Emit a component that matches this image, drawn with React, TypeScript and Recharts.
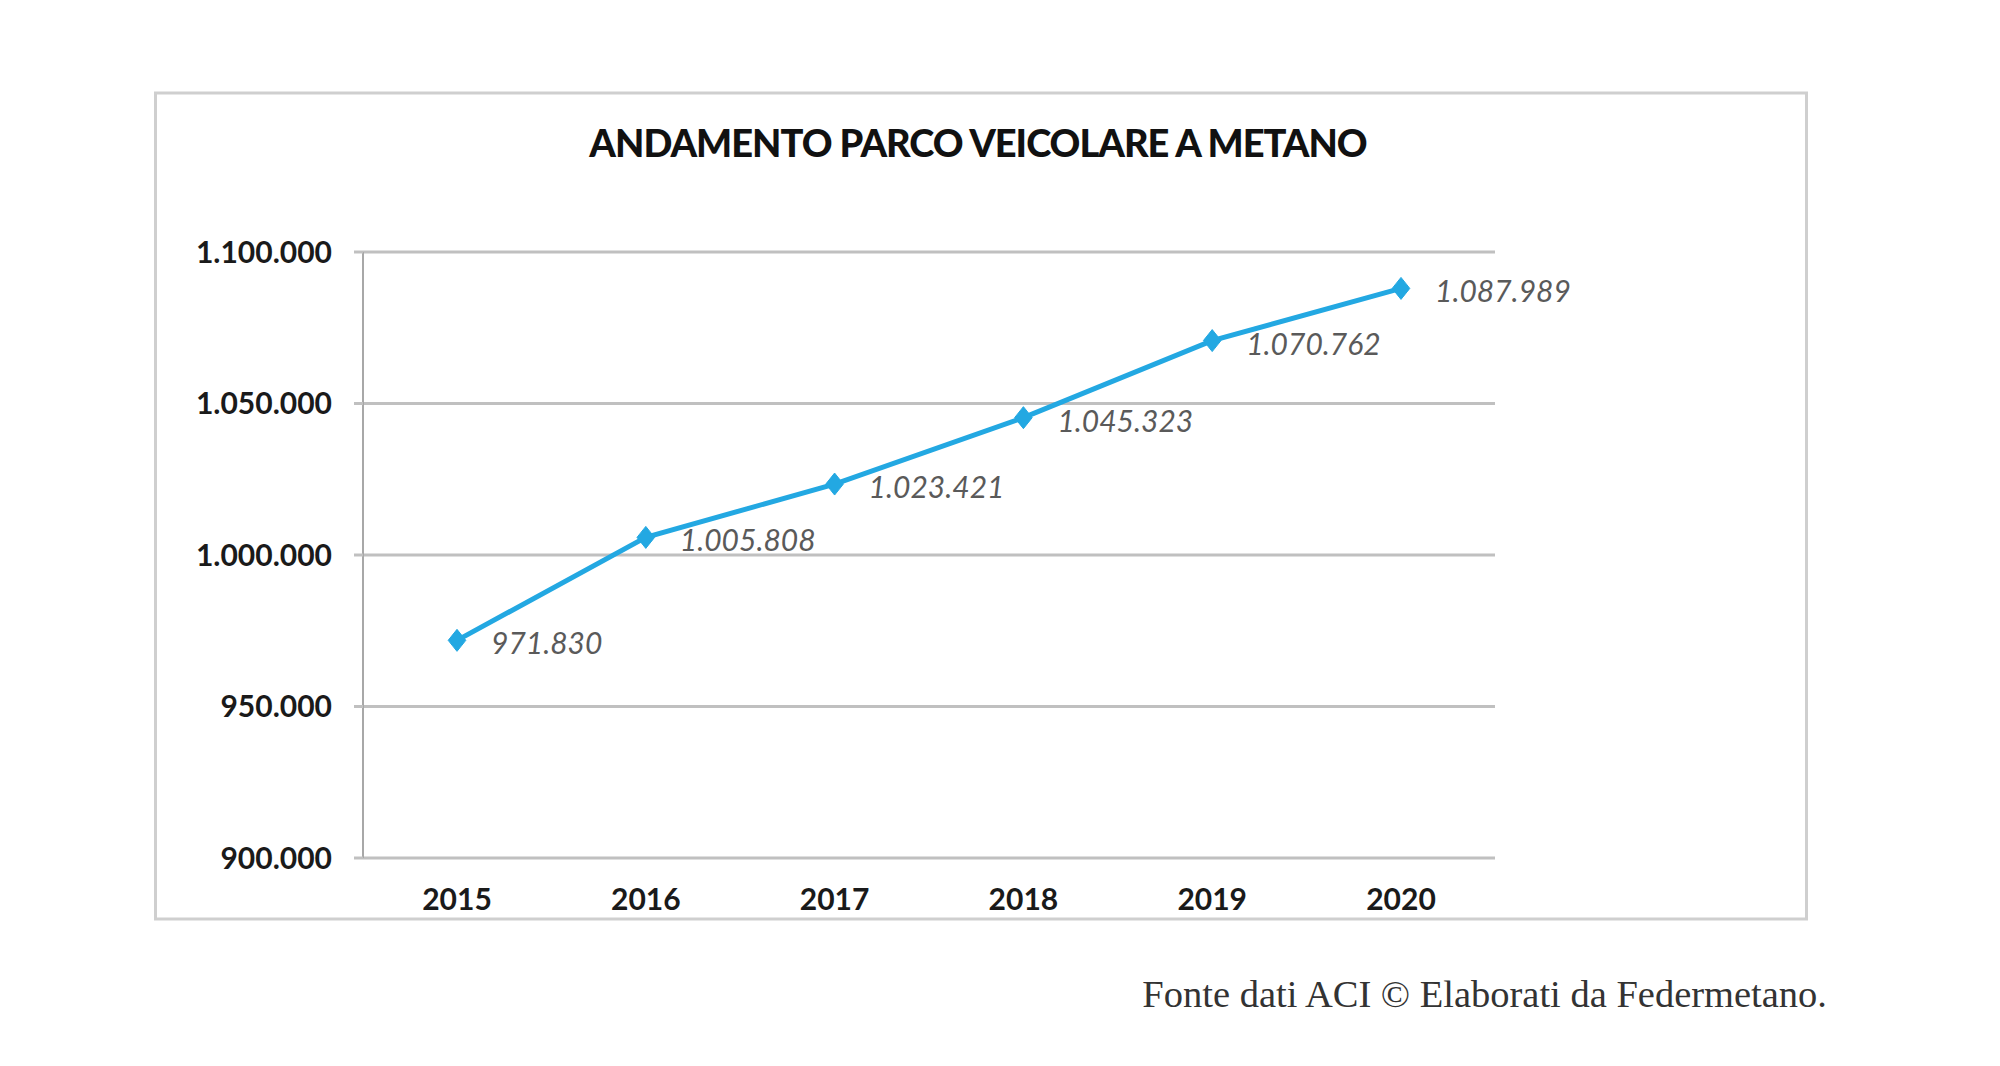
import React from "react";
import { CartesianGrid, LabelList, Line, LineChart, XAxis, YAxis } from "recharts";

const years = ["2015", "2016", "2017", "2018", "2019", "2020"];
const vehicles = [971830, 1005808, 1023421, 1045323, 1070762, 1087989];
const yTicks = [900000, 950000, 1000000, 1050000, 1100000];

const title = "ANDAMENTO PARCO VEICOLARE A METANO";
const source = "Fonte dati ACI © Elaborati da Federmetano.";

const data = years.map((year, i) => ({ year, vehicles: vehicles[i] }));

// italian thousands separator
const fmt = (v: number) => String(Math.round(v)).replace(/\B(?=(\d{3})+(?!\d))/g, ".");

const BLUE = "#23a8e2";
const GRID = "#c0c0c0";

const Diamond = (props: any) => {
    const { cx, cy } = props;
    if (cx == null || cy == null) return null;
    const r = 11;
    return (
        <polygon
            points={`${cx},${cy - r} ${cx + r * 0.8},${cy} ${cx},${cy + r} ${cx - r * 0.8},${cy}`}
            fill={BLUE}
            stroke={BLUE}
            strokeWidth={1}
        />
    );
};

const ValueLabel = (props: any) => {
    const { x, y, value } = props;
    return (
        <text
            x={x + 34}
            y={y + 14}
            fontFamily="Lato"
            fontStyle="italic"
            fontSize={30}
            fill="#5a5a5a"
        >
            {fmt(value)}
        </text>
    );
};

export default function App() {
    return (
        <div style={{ position: "absolute", left: 0, top: 0, width: 2000, height: 1066, background: "#fff" }}>
            <div style={{ position: "absolute", left: 155, top: 92 }}>
                <LineChart
                    width={1652}
                    height={828}
                    data={data}
                    margin={{ top: 160, right: 312, bottom: 0, left: 0 }}
                >
                    <CartesianGrid vertical={false} stroke={GRID} strokeWidth={3} />
                    <XAxis
                        dataKey="year"
                        height={62}
                        axisLine={false}
                        tickLine={false}
                        tickMargin={25}
                        padding={{ left: 94, right: 94 }}
                        tick={{ fontFamily: "Lato", fontWeight: 700, fontSize: 30, fill: "#1a1a1a" }}
                    />
                    <YAxis
                        width={208}
                        domain={[900000, 1100000]}
                        ticks={yTicks}
                        tickFormatter={fmt}
                        axisLine={{ stroke: "#a8a8a8", strokeWidth: 2 }}
                        tickLine={{ stroke: GRID, strokeWidth: 3 }}
                        tickSize={9}
                        tickMargin={22}
                        tick={{ fontFamily: "Lato", fontWeight: 700, fontSize: 30, fill: "#1a1a1a" }}
                    />
                    <Line
                        type="linear"
                        dataKey="vehicles"
                        stroke={BLUE}
                        strokeWidth={5}
                        dot={<Diamond />}
                        activeDot={false}
                        isAnimationActive={false}
                    >
                        <LabelList dataKey="vehicles" content={<ValueLabel />} />
                    </Line>
                </LineChart>
            </div>
            <svg
                width={2000}
                height={1066}
                style={{ position: "absolute", left: 0, top: 0, pointerEvents: "none" }}
            >
                <rect x={155.5} y={93} width={1651} height={826} fill="none" stroke="#cfcfcf" strokeWidth={3} />
                <text
                    x={978}
                    y={157}
                    textAnchor="middle"
                    fontFamily="Lato"
                    fontWeight={900}
                    fontSize={38}
                    letterSpacing={-1}
                    fill="#111"
                >
                    {title}
                </text>
                <text
                    x={1827}
                    y={1007}
                    textAnchor="end"
                    fontFamily="Liberation Serif"
                    fontSize={38.5}
                    fill="#333"
                >
                    {source}
                </text>
            </svg>
        </div>
    );
}
